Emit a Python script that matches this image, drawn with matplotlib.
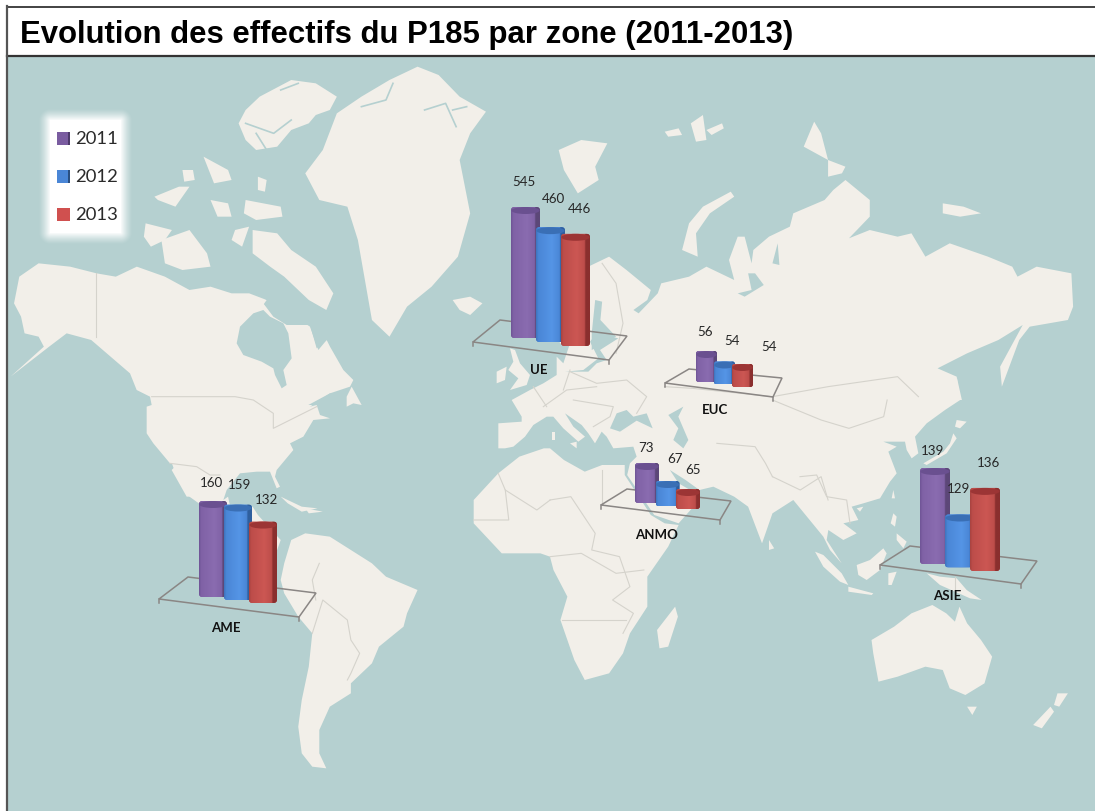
import numpy as np
import matplotlib
matplotlib.use("Agg")
import matplotlib.pyplot as plt
from matplotlib.colors import LinearSegmentedColormap
from matplotlib.patches import Polygon, Rectangle, Ellipse, FancyBboxPatch

# data
zones = ["UE", "EUC", "ANMO", "AME", "ASIE"]
years = ["2011", "2012", "2013"]
val_ue = [545, 460, 446]
val_euc = [56, 54, 54]
val_anmo = [73, 67, 65]
val_ame = [160, 159, 132]
val_asie = [139, 129, 136]
values = [val_ue, val_euc, val_anmo, val_ame, val_asie]

W, H = 1095, 811
SEA = "#b5d0d0"
LAND = "#f2efe9"
BORDER = "#d5d3cc"

# bar groups: left px, top px of first bar, bottom px of first bar, step, width, tilt px, px per unit
group_pos = [
    (511, 207, 338, 25.0, 29, 4.0, 0.19),
    (696, 351, 382, 18.0, 21, 2.5, 4.0),
    (635, 463, 503, 20.5, 24, 3.0, 2.5),
    (199, 501, 597, 25.0, 28, 3.0, 0.52),
    (920, 468, 564, 25.0, 30, 3.5, 4.3),
]
floors = [
    [(473, 342), (609, 360), (627, 336), (500, 320)],
    [(665, 383), (773, 397), (782, 378), (689, 369)],
    [(601, 505), (720, 520), (731, 501), (627, 489)],
    [(159, 599), (299, 617), (316, 593), (188, 577)],
    [(880, 565), (1021, 584), (1037, 561), (910, 546)],
]
value_pos = [
    [(524, 182), (553, 199), (579, 209)],
    [(705, 332), (732, 341), (769, 347)],
    [(646, 448), (675, 459), (693, 470)],
    [(212, 483), (240, 485), (267, 500)],
    [(933, 451), (959, 489), (989, 463)],
]
zone_pos = [(539, 370), (715, 410), (657, 535), (226, 628), (947, 596)]

bar_cols = [
    ("#6f5596", "#8062a6", "#8a6cb0", "#5c4778", "#6a5090"),
    ("#3f74bd", "#4a86d6", "#5595e6", "#2f5f9e", "#3a6fb5"),
    ("#a84340", "#bd4d4a", "#cc5753", "#8a2f2e", "#9c3535"),
]


# the map was traced on crops of the picture, each one has its own offset and scale
def z(x0, y0, sx, sy, pts):
    a = np.array(pts, dtype=float)
    return np.column_stack([x0 + a[:, 0] / sx, y0 + a[:, 1] / sy])


def z1(*p): return z(0, 0, 2.85, 3, p)
def z2(*p): return z(550, 0, 2.877, 3, p)
def z3(*p): return z(0, 400, 2.85, 3, p)
def z4(*p): return z(550, 400, 2.877, 3, p)
def z7(*p): return z(130, 290, 3, 3, p)
def z8(*p): return z(470, 300, 3, 3, p)
def z9(*p): return z(800, 410, 3, 3, p)


north_america = np.vstack([
    z1((55, 830), (110, 790), (200, 800), (275, 820), (330, 830), (390, 800), (470, 830), (540, 870),
       (600, 860), (660, 880), (710, 880), (760, 900)),
    z7((350, 30), (400, 40), (430, 80), (470, 105), (540, 105), (560, 175), (590, 150), (600, 170),
       (640, 240), (670, 270), (660, 290), (600, 310), (540, 350), (560, 345), (570, 375), (600, 385),
       (550, 390), (520, 440), (480, 460), (490, 480), (440, 540), (435, 560), (450, 590), (440, 595),
       (420, 545), (380, 545), (330, 550), (290, 600), (280, 630)),
    z3((650, 290), (660, 340), (720, 320), (735, 345), (800, 420), (790, 450), (760, 440), (700, 400),
       (640, 370), (580, 320), (540, 290), (500, 220), (490, 190)),
    z7((120, 520), (70, 460), (50, 430), (50, 350), (65, 345), (60, 320), (20, 300), (0, 250)),
    z1((260, 1020), (190, 1000), (140, 1040), (30, 1130), (125, 1040), (110, 1010), (70, 1000), (60, 950), (40, 910)),
])
south_america = z3((830, 420), (870, 400), (940, 410), (1000, 450), (1060, 490), (1100, 530), (1190, 570),
                   (1160, 640), (1150, 680), (1080, 740), (1060, 790), (1000, 850), (1000, 880), (940, 920),
                   (910, 990), (910, 1060), (930, 1105), (890, 1100), (860, 1060), (850, 980), (860, 900),
                   (880, 800), (890, 700), (850, 650), (810, 580), (800, 540), (810, 490))
africa = np.vstack([
    z4((0, 145), (40, 180), (100, 215), (150, 195), (215, 195), (215, 225), (290, 345), (330, 370), (370, 375),
       (340, 440), (280, 530), (280, 620), (230, 700), (210, 760), (170, 820), (100, 840), (70, 780), (30, 660),
       (50, 590), (10, 510), (0, 470)),
    z3((1540, 460), (1430, 460), (1350, 370), (1350, 300), (1420, 220), (1480, 170), (1550, 145)),
])
eurasia = np.vstack([
    z8((85, 370), (155, 365), (155, 350), (125, 300), (180, 270), (220, 250), (260, 225), (260, 170), (280, 190),
       (300, 130), (270, 130)),
    z2((0, 900), (30, 850), (110, 800), (170, 770), (220, 810), (290, 870), (280, 900), (240, 930), (255, 940),
       (310, 880), (320, 850), (400, 830), (450, 800), (530, 840), (515, 780), (540, 710), (560, 710), (580, 790),
       (585, 750), (630, 710), (690, 680), (700, 640), (790, 600), (815, 570), (850, 540), (920, 600), (920, 650),
       (860, 715), (920, 690), (1000, 710), (1040, 700), (1080, 770), (1150, 730), (1260, 770), (1330, 800),
       (1345, 830), (1400, 800), (1500, 820), (1505, 920), (1490, 960), (1380, 980), (1350, 1020), (1300, 1160),
       (1295, 1100), (1360, 975), (1290, 1020), (1200, 1060), (1115, 1105), (1170, 1130), (1180, 1200)),
    z9((435, 0), (380, 40), (345, 80), (355, 130), (335, 145), (320, 120), (315, 95), (250, 95), (290, 110),
       (265, 125), (290, 190), (270, 215), (240, 265), (190, 280), (155, 290), (175, 330), (130, 340), (170, 370),
       (130, 390), (85, 360), (80, 390), (125, 460), (90, 420), (70, 380)),
    z4((700, 300), (640, 340), (610, 430), (570, 320), (530, 290), (470, 260), (430, 270), (390, 240), (345, 210),
       (370, 250), (420, 280), (430, 300), (370, 370), (300, 345), (222, 225), (230, 190)),
    z8((500, 470), (490, 440), (430, 445), (410, 410), (395, 395), (375, 430), (355, 400), (335, 375), (285, 340),
       (310, 380), (345, 410), (325, 425), (280, 385), (250, 350), (230, 350), (190, 375), (165, 410), (130, 440),
       (105, 445), (85, 445)),
])
greenland = z1((1190, 200), (1250, 225), (1310, 290), (1385, 335), (1340, 400), (1310, 480), (1340, 640), (1305, 770),
               (1230, 860), (1160, 920), (1110, 1010), (1060, 960), (1040, 840), (1020, 720), (990, 620), (910, 600),
               (870, 520), (920, 450), (960, 340), (1030, 290), (1110, 240))
islands = [
    z1((960, 290), (900, 250), (830, 240), (740, 290), (700, 330), (680, 370), (700, 420), (730, 450), (790, 440),
       (830, 390), (880, 370), (900, 345), (940, 330)),  # Ellesmere
    z1((720, 690), (790, 700), (830, 750), (900, 800), (950, 880), (930, 930), (880, 900), (810, 830), (770, 800),
       (720, 760)),  # Baffin
    z1((700, 600), (800, 620), (805, 650), (730, 660), (695, 640)),
    z1((600, 600), (650, 610), (660, 650), (620, 650)),
    z1((580, 470), (650, 510), (660, 540), (610, 550)),
    z1((735, 530), (760, 540), (755, 575), (735, 570)),
    z1((440, 590), (510, 560), (540, 560), (500, 620), (450, 600)),
    z1((520, 510), (550, 510), (555, 540), (525, 545)),
    z1((415, 670), (490, 690), (470, 720), (430, 740), (410, 710)),
    z1((460, 720), (540, 690), (590, 760), (600, 800), (520, 810), (470, 790)),
    z1((670, 690), (710, 680), (690, 740), (660, 720)),
    z1((700, 900), (760, 900), (740, 930)),
    z1((1290, 900), (1340, 890), (1375, 910), (1340, 945), (1310, 930)),  # Iceland
    z2((25, 450), (90, 420), (165, 430), (130, 500), (140, 540), (80, 580), (40, 510)),  # Svalbard
    z2((520, 575), (530, 590), (460, 640), (420, 700), (425, 770), (380, 750), (400, 670), (440, 620)),
    z2((330, 395), (370, 385), (380, 405), (340, 410)),
    z2((405, 370), (440, 345), (450, 420), (420, 425)),
    z2((450, 390), (495, 370), (500, 385), (465, 405)),
    z2((760, 365), (780, 400), (800, 480), (850, 500), (840, 520), (800, 530), (800, 480), (730, 440)),
    z2((1130, 610), (1190, 620), (1240, 640), (1180, 650), (1130, 640)),
    z7((650, 320), (665, 290), (695, 345), (670, 340), (650, 350)),  # Newfoundland
    z7((135, 530), (190, 620), (170, 620), (125, 540)),  # Baja
    z3((800, 290), (860, 320), (905, 325), (860, 335), (820, 310)),  # Cuba
    z3((870, 325), (920, 335), (880, 340)),
    z8((120, 145), (135, 150), (150, 190), (180, 225), (170, 255), (120, 270), (145, 235), (115, 210), (130, 185)),
    z8((80, 215), (110, 200), (105, 240), (80, 250)),
    z8((300, 430), (320, 425), (320, 445)),
    z8((245, 395), (255, 395), (255, 420), (245, 420)),
    z4((360, 620), (368, 650), (340, 740), (315, 745), (308, 690)),  # Madagascar
    z4((630, 420), (645, 445), (630, 450)),
    z9((280, 240), (285, 265), (275, 265)),
    z9((170, 295), (190, 290), (180, 305)),
    z9((460, 70), (470, 85), (440, 130), (380, 165), (370, 160), (430, 125), (450, 100)),  # Japan
    z9((470, 30), (500, 35), (480, 55), (465, 50)),
    z2((1170, 1130), (1185, 1200), (1172, 1200)),
    z9((280, 310), (290, 320), (285, 350), (272, 340)),
    z9((290, 370), (320, 395), (310, 415), (290, 390)),
    z9((45, 425), (70, 435), (125, 490), (145, 525), (120, 515), (70, 470)),  # Sumatra
    z9((145, 530), (220, 550), (215, 555), (145, 545)),
    z9((170, 465), (210, 450), (250, 415), (260, 430), (240, 480), (200, 510), (175, 495)),  # Borneo
    z9((265, 490), (290, 485), (275, 525), (265, 525)),
    z9((380, 490), (420, 500), (470, 505), (500, 540), (545, 570), (510, 565), (465, 545), (420, 525)),  # New Guinea
    z4((1100, 615), (1140, 640), (1165, 665), (1178, 620), (1200, 670), (1240, 720), (1272, 770), (1250, 850),
       (1195, 885), (1150, 865), (1130, 810), (1080, 800), (1000, 830), (945, 845), (930, 760), (925, 720),
       (990, 680), (1040, 640)),  # Australia
    z4((1200, 920), (1228, 920), (1215, 945)),
    z4((1460, 880), (1490, 880), (1465, 920), (1450, 915)),
    z4((1440, 920), (1450, 935), (1415, 985), (1390, 975)),
]
waters = [
    z7((320, 160), (330, 110), (370, 70), (400, 60), (420, 80), (460, 100), (475, 130), (485, 205), (460, 240),
       (470, 285), (455, 295), (435, 255), (430, 235), (395, 215), (340, 195)),  # Hudson Bay
    z7((400, 40), (420, 10), (520, 0), (500, 40), (540, 90), (590, 150), (565, 180), (540, 110), (480, 70), (440, 70)),
    z7((535, 345), (600, 310), (640, 320), (630, 345), (590, 360), (565, 345)),
    z8((420, 385), (440, 340), (470, 330), (490, 350), (530, 340), (548, 385), (500, 362), (450, 395)),  # Black Sea
    z8((595, 345), (640, 320), (625, 350), (655, 420), (640, 445), (610, 420), (625, 385)),  # Caspian
    z8((285, 215), (340, 210), (385, 175), (360, 125), (380, 100), (445, 115), (390, 150), (410, 180), (380, 190),
       (355, 215)),
    z2((120, 1000), (130, 900), (150, 905), (145, 960), (190, 1010), (120, 1050)),
    z2((540, 880), (580, 870), (570, 820), (590, 820), (615, 855), (560, 890)),
    z2((640, 790), (655, 730), (660, 795)),
]
fjords = [
    z1((700, 370), (780, 400), (830, 360)),
    z1((730, 400), (760, 450)),
    z1((800, 270), (850, 250)),
    z1((1210, 330), (1270, 310), (1300, 380)),
    z1((1030, 320), (1100, 300), (1120, 250)),
    z1((1290, 330), (1330, 320)),
]
borders = [
    z1((275, 820), (275, 1010)),
    z7((65, 320), (315, 320), (370, 330), (430, 370), (430, 415), (470, 395), (530, 365), (560, 350)),
    z7((120, 520), (200, 530), (240, 555), (270, 555)),
    z3((890, 700), (920, 600), (990, 660), (1000, 720), (1025, 760), (1000, 820), (990, 840)),
    z3((910, 490), (890, 540), (900, 600)),
    z3((1420, 220), (1440, 270), (1530, 330), (1568, 300)),
    z3((1350, 360), (1450, 360), (1440, 270)),
    z4((0, 300), (60, 290), (130, 400), (120, 450), (200, 470), (230, 560), (180, 600), (240, 640), (210, 700)),
    z4((35, 660), (220, 660)),
    z4((0, 470), (90, 460), (190, 520), (270, 510)),
    z4((150, 210), (150, 310)),
    z8((300, 215), (380, 250), (470, 240), (530, 290), (500, 340)),
    z8((220, 320), (290, 270), (380, 260)),
    z8((280, 270), (300, 210)),
    z8((310, 300), (430, 320), (420, 350), (370, 380)),
    z8((190, 260), (230, 320)),
    z2((150, 790), (190, 850), (210, 970), (190, 1060)),
    z2((330, 1160), (410, 1165), (640, 1190), (800, 1160), (1000, 1130), (1060, 1190)),
    z4((640, 230), (720, 270), (780, 230), (800, 300)),
    z4((480, 130), (590, 140), (620, 190), (640, 230)),
    z4((640, 0), (780, 60), (860, 85), (960, 50), (970, 0)),
    z9((0, 200), (50, 195), (80, 260), (140, 270), (150, 340)),
    z9((464, 500), (464, 545)),
]

fig = plt.figure(figsize=(W / 100, H / 100), dpi=100, facecolor="white")
ax = fig.add_axes([0, 0, 1, 1])
ax.set_xlim(0, W)
ax.set_ylim(H, 0)
ax.axis("off")

# map background
ax.add_patch(Rectangle((7, 56), W - 7, H - 56, fc=SEA, ec="none", zorder=0))
for poly in [north_america, south_america, africa, eurasia, greenland]:
    ax.add_patch(Polygon(poly, fc=LAND, ec="none", zorder=1))
for poly in waters:
    ax.add_patch(Polygon(poly, fc=SEA, ec="none", zorder=2))
for poly in islands:
    ax.add_patch(Polygon(poly, fc=LAND, ec="none", zorder=3))
for line in fjords:
    ax.plot(line[:, 0], line[:, 1], color=SEA, lw=1.2, zorder=4)
for line in borders:
    ax.plot(line[:, 0], line[:, 1], color=BORDER, lw=0.8, zorder=4)

# title band
ax.add_patch(Rectangle((7, 6), W - 7, 49, fc="white", ec="none", zorder=5))
ax.plot([7, W], [6.5, 6.5], color="#222222", lw=1.2, zorder=6)
ax.plot([7, W], [55.5, 55.5], color="#333333", lw=1.6, zorder=6)
ax.plot([7, 7], [6, H], color="#555555", lw=1.6, zorder=6)
ax.text(20, 43, "Evolution des effectifs du P185 par zone (2011-2013)", fontsize=22.45, fontweight="bold",
        family="Liberation Sans", color="black", va="baseline", ha="left", zorder=7)

# legend with its white glow
gx, gy = np.meshgrid(np.arange(30, 141), np.arange(100, 251))
dx = np.maximum(np.maximum(50 - gx, gx - 120), 0)
dy = np.maximum(np.maximum(120 - gy, gy - 232), 0)
glow = np.ones(gx.shape + (4,))
glow[..., 3] = np.clip(1 - np.hypot(dx, dy) / 12, 0, 1) ** 1.3
ax.imshow(glow, extent=(30, 141, 251, 100), aspect="auto", zorder=8, interpolation="bilinear")
ax.set_xlim(0, W)
ax.set_ylim(H, 0)
leg_cols = [("#7a5ca0", "#4d3a6a"), ("#4a86d6", "#2a4f80"), ("#d0504f", "#d0504f")]
for i, year in enumerate(years):
    y = 132 + i * 38
    ax.add_patch(Rectangle((57, y), 13, 12.5, fc=leg_cols[i][0], ec="none", zorder=9))
    ax.add_patch(Rectangle((67.5, y), 2.5, 12.5, fc=leg_cols[i][1], ec="none", zorder=9))
    ax.text(75, y + 6.5, year, fontsize=13.3, family="Lato", color="#2a2a2a", va="center", ha="left", zorder=9)

# floors under the bars
for corners in floors:
    ax.add_patch(Polygon(corners, closed=True, fc="none", ec="#8a8684", lw=1.1, zorder=9))
    for cx, cy in corners[:2]:
        ax.plot([cx, cx], [cy, cy + 4], color="#8a8684", lw=1.1, zorder=9)

# one small axes per zone, each one with its own truncated scale
for vals, (left, top, bottom, step, width, tilt, scale) in zip(values, group_pos):
    pad = 4
    px_right = left + 2 * step + width
    px_bottom = bottom + 2 * tilt + pad
    b = fig.add_axes([left / W, 1 - px_bottom / H, (px_right - left) / W, (px_bottom - top + pad) / H])
    b.patch.set_visible(False)
    b.axis("off")
    ymin = vals[0] - (bottom - top) / scale
    ylim = (ymin - (2 * tilt + pad) / scale, vals[0] + pad / scale)
    half = 0.5 * width / step
    xlim = (-half, 2 + half)
    aspect = step / scale
    for i, v in enumerate(vals):
        low = ymin - i * tilt / scale
        high = v - i * tilt / scale
        edge, base, light, side, cap = bar_cols[i]
        rect = b.bar(i, v - ymin, 2 * half, bottom=low, color=base, zorder=2 * i + 1)[0]
        round_box = FancyBboxPatch((i - half, low), 2 * half, v - ymin, boxstyle="round,pad=0,rounding_size=0.14",
                                   mutation_aspect=aspect, fc="none", ec="none", transform=b.transData)
        b.add_patch(round_box)
        cmap = LinearSegmentedColormap.from_list("bar", [(0, edge), (0.08, base), (0.55, light), (0.82, base),
                                                         (0.86, side), (1, side)])
        img = b.imshow(np.linspace(0, 1, 64)[None, :], extent=(i - half, i + half, low, high), aspect="auto",
                       cmap=cmap, zorder=2 * i + 1)
        img.set_clip_path(round_box)
        rect.set_clip_path(round_box)
        cap_h = 7 / scale
        b.add_patch(Ellipse((i, high - cap_h / 2), 2 * half * 0.97, cap_h, fc=cap, ec="none", zorder=2 * i + 2))
    b.set_xlim(xlim)
    b.set_ylim(ylim)

# labels go above the bars
top_ax = fig.add_axes([0, 0, 1, 1])
top_ax.patch.set_visible(False)
top_ax.axis("off")
top_ax.set_xlim(0, W)
top_ax.set_ylim(H, 0)
for zone, vals, v_pos, pos in zip(zones, values, value_pos, zone_pos):
    for v, (x, y) in zip(vals, v_pos):
        top_ax.text(x, y, str(v), fontsize=9.6, family="Lato", color="#262626", ha="center", va="center")
    top_ax.text(pos[0], pos[1], zone, fontsize=9.5, family="Lato", fontweight="bold", color="#111111",
                ha="center", va="center")

fig.savefig("out.png", dpi=100)
